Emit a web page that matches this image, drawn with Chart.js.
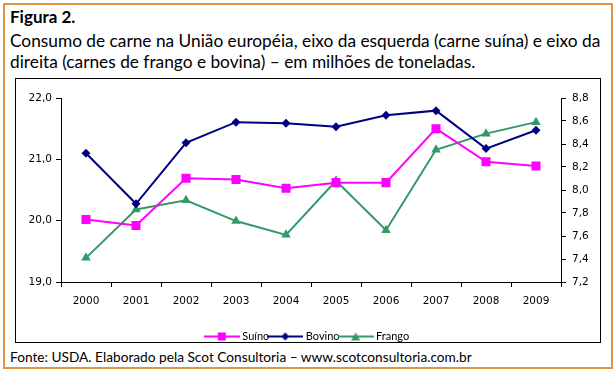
<!DOCTYPE html>
<html>
<head>
<meta charset="utf-8">
<script src="https://cdn.jsdelivr.net/npm/chart.js@4.4.0/dist/chart.umd.min.js"></script>
<style>
  body { margin: 0; background: #fff; width: 616px; height: 371px; overflow: hidden; }
  #frame { position: absolute; left: 3px; top: 3px; width: 606px; height: 362px; border: 2px solid #e4923f; }
  .txt { position: absolute; left: 10px; font-family: Lato, sans-serif; color: #000; white-space: nowrap; }
  #fig { top: 6px; font-size: 17px; font-weight: bold; }
  #sub1 { top: 30px; font-size: 17.3px; }
  #sub2 { top: 51px; font-size: 17.3px; }
  #src { top: 348px; font-size: 13.7px; }
  #box { position: absolute; left: 15px; top: 78px; width: 584px; height: 263px; border: 1px solid #000; }
  #box canvas { position: absolute; left: 0; top: 0; }
</style>
</head>
<body>
<div id="frame"></div>
<div class="txt" id="fig">Figura 2.</div>
<div class="txt" id="sub1">Consumo de carne na União européia, eixo da esquerda (carne suína) e eixo da</div>
<div class="txt" id="sub2">direita (carnes de frango e bovina) – em milhões de toneladas.</div>
<div id="box"><canvas id="chart" width="584" height="263"></canvas></div>
<div class="txt" id="src">Fonte: USDA. Elaborado pela Scot Consultoria – www.scotconsultoria.com.br</div>

<script>
// values
const years = ['2000', '2001', '2002', '2003', '2004', '2005', '2006', '2007', '2008', '2009'];
const suino = [20.02, 19.92, 20.69, 20.67, 20.53, 20.62, 20.62, 21.50, 20.96, 20.89]; // left axis
const bovino = [8.32, 7.88, 8.41, 8.59, 8.58, 8.55, 8.65, 8.69, 8.36, 8.52];       // right axis
const frango = [7.41, 7.83, 7.91, 7.73, 7.61, 8.08, 7.65, 8.35, 8.49, 8.59];       // right axis

const pink = '#ff00ff';
const navy = '#000080';
const green = '#339966';

// little line + marker icons for the legend
function legendIcon(color, marker) {
  const c = document.createElement('canvas');
  c.width = 36; c.height = 12;
  const g = c.getContext('2d');
  g.strokeStyle = color;
  g.lineWidth = 2;
  g.beginPath(); g.moveTo(0, 6); g.lineTo(36, 6); g.stroke();
  g.fillStyle = color;
  g.beginPath();
  if (marker === 'rect') {
    g.rect(14, 2, 8, 8);
  } else if (marker === 'diamond') {
    g.moveTo(18, 2); g.lineTo(22, 6); g.lineTo(18, 10); g.lineTo(14, 6);
  } else {
    g.moveTo(18, 2); g.lineTo(22.5, 10); g.lineTo(13.5, 10);
  }
  g.closePath(); g.fill();
  return c;
}
const icons = [legendIcon(pink, 'rect'), legendIcon(navy, 'diamond'), legendIcon(green, 'tri')];

const comma = v => Number(v).toFixed(1).replace('.', ',');
const tickFont = { family: 'DejaVu Sans', size: 10.5 };

new Chart(document.getElementById('chart'), {
  type: 'line',
  data: {
    labels: years,
    datasets: [
      {
        label: 'Suíno', data: suino, yAxisID: 'y',
        borderColor: pink, backgroundColor: pink, borderWidth: 2,
        pointStyle: 'rect', pointRadius: 6.4, pointBorderWidth: 0, tension: 0
      },
      {
        label: 'Bovino', data: bovino, yAxisID: 'y1',
        borderColor: navy, backgroundColor: navy, borderWidth: 2,
        pointStyle: 'rectRot', pointRadius: 4.5, pointBorderWidth: 0, tension: 0
      },
      {
        label: 'Frango', data: frango, yAxisID: 'y1',
        borderColor: green, backgroundColor: green, borderWidth: 2,
        pointStyle: 'triangle', pointRadius: 5.5, pointBorderWidth: 0, tension: 0
      }
    ]
  },
  options: {
    responsive: false,
    animation: false,
    devicePixelRatio: 1,
    layout: { padding: { top: 19, left: 0, right: 0, bottom: -10 } },
    scales: {
      x: {
        offset: true,
        grid: { offset: true, drawOnChartArea: false, tickLength: 5, color: '#000' },
        border: { color: '#000', width: 1 },
        ticks: { color: '#000', font: tickFont, padding: 8, maxRotation: 0 },
        afterFit: s => { s.height = 48; }
      },
      y: {
        position: 'left', min: 19, max: 22,
        grid: { drawOnChartArea: false, tickLength: 5, color: '#000' },
        border: { color: '#000', width: 1 },
        ticks: { stepSize: 1, color: '#000', font: tickFont, padding: 4, callback: comma },
        afterFit: s => { s.width = 45; }
      },
      y1: {
        position: 'right', min: 7.2, max: 8.8,
        grid: { drawOnChartArea: false, tickLength: 5, color: '#000' },
        border: { color: '#000', width: 1 },
        ticks: { stepSize: 0.2, color: '#000', font: tickFont, padding: 6, callback: comma },
        afterFit: s => { s.width = 39; }
      }
    },
    plugins: {
      legend: {
        position: 'bottom',
        labels: {
          usePointStyle: true,
          pointStyleWidth: 30,
          boxHeight: 11,
          padding: 1,
          color: '#000',
          font: { family: 'Lato', size: 11 },
          generateLabels: chart => chart.data.datasets.map((ds, i) => ({
            text: ds.label,
            pointStyle: icons[i],
            fillStyle: ds.borderColor,
            strokeStyle: ds.borderColor,
            lineWidth: 0,
            fontColor: '#000',
            hidden: false,
            datasetIndex: i
          }))
        }
      },
      tooltip: { enabled: false }
    }
  }
});
</script>
</body>
</html>
